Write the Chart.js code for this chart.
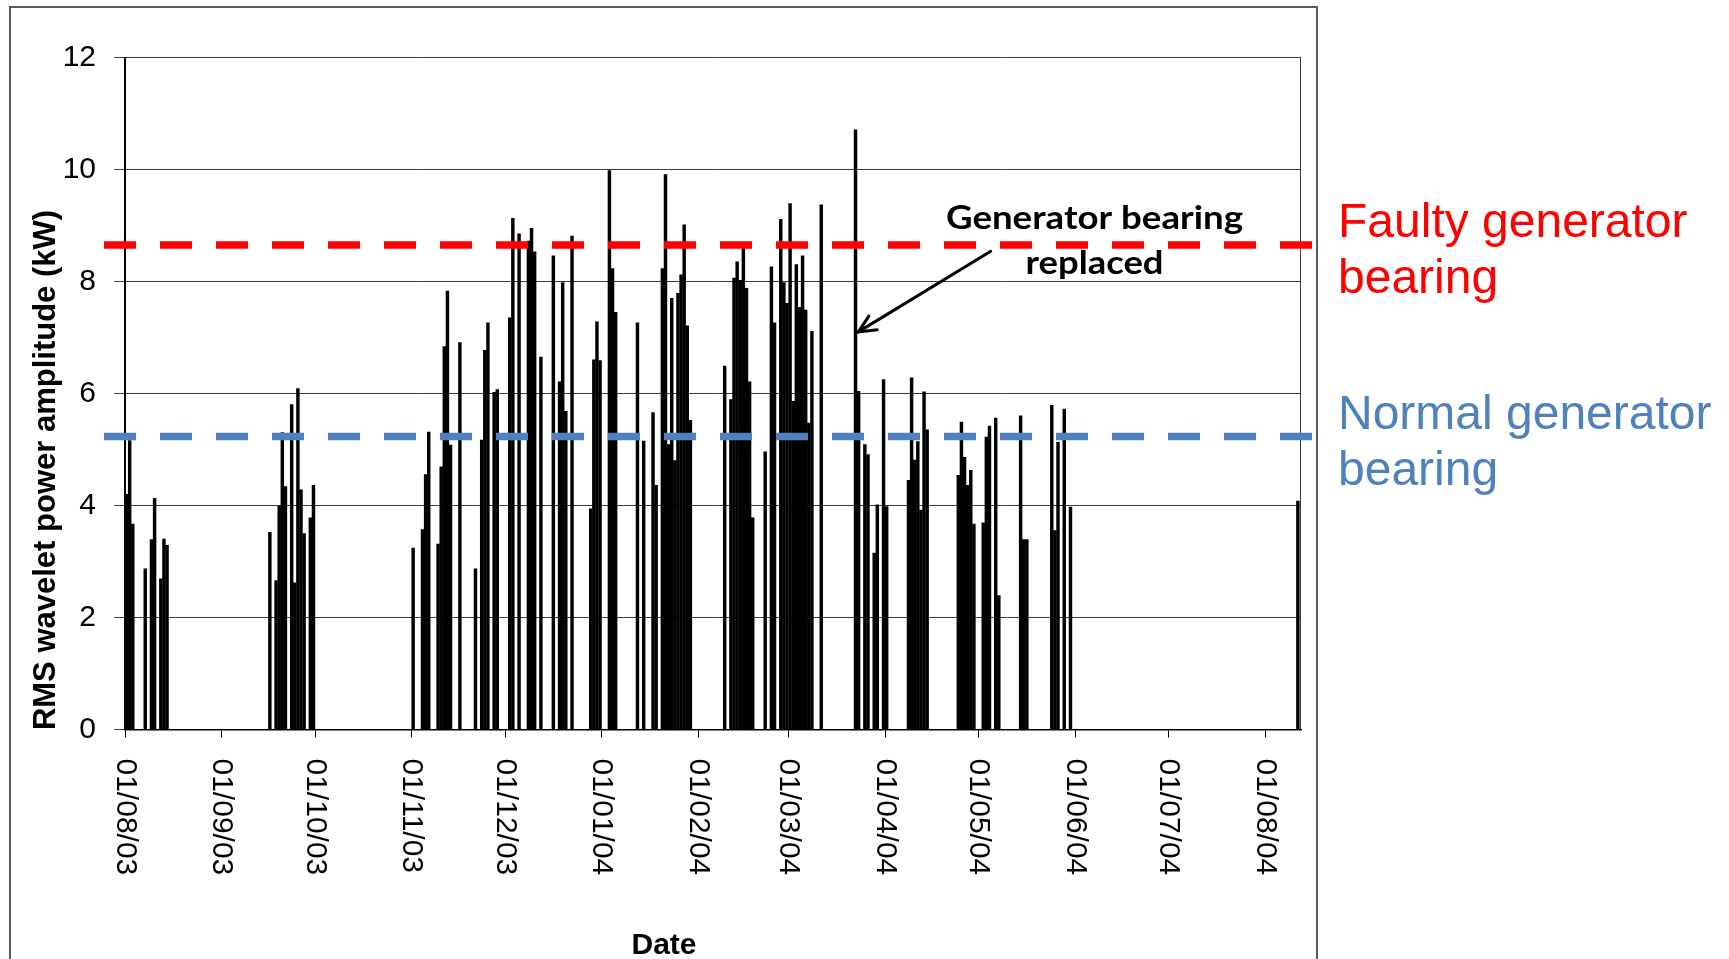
<!DOCTYPE html>
<html><head><meta charset="utf-8">
<script src="https://cdn.jsdelivr.net/npm/chart.js@4.4.1/dist/chart.umd.min.js"></script>
<style>html,body{margin:0;padding:0;background:#fff;overflow:hidden}canvas{display:block}</style>
</head><body>
<canvas id="c" width="1729" height="959"></canvas>
<script>
// Day index (days since 01/08/03) of each measurement
const days = [0,1,2,6,8,9,11,12,13,
  46,48,49,50,51,53,54,55,56,57,59,60,
  92,95,96,97,100,101,102,103,104,107,112,114,115,116,118,119,123,124,126,129,130,131,133,
  137,139,140,141,143,149,150,151,152,155,156,157,164,166,169,170,
  172,173,174,175,176,177,178,179,180,181,192,194,195,196,197,198,199,200,201,
  205,207,208,210,211,212,213,214,215,216,217,218,219,220,223,
  234,235,237,238,240,241,243,244,251,252,253,254,255,256,257,
  267,268,269,270,271,272,275,276,277,279,280,287,288,289,297,298,299,301,303,376];
// RMS wavelet power amplitude (kW)
const amplitudes = [4.20,5.16,3.67,2.87,3.39,4.13,2.69,3.40,3.29,
  3.52,2.66,3.99,5.30,4.34,5.80,2.62,6.09,4.28,3.50,3.78,4.36,
  3.24,3.57,4.55,5.31,3.31,4.69,6.84,7.83,5.08,6.91,2.87,5.17,6.77,7.26,6.02,6.07,7.35,9.13,8.85,8.72,8.95,8.53,6.65,
  8.46,6.21,7.98,5.68,8.81,3.94,6.60,7.28,6.59,9.98,8.23,7.45,7.26,5.15,5.66,4.36,
  8.23,9.91,5.09,7.70,4.80,7.79,8.12,9.01,7.21,5.52,6.49,5.89,8.06,8.35,8.02,8.62,7.88,6.21,3.78,
  4.96,8.26,7.26,9.11,7.98,7.61,9.39,5.86,8.30,7.54,8.46,7.49,5.47,7.11,9.37,
  10.71,6.04,5.09,4.91,3.15,4.01,6.25,3.98,4.45,6.28,4.81,5.14,3.92,6.03,5.35,
  4.54,5.49,4.86,4.36,4.63,3.67,3.69,5.22,5.42,5.56,2.39,5.60,3.39,3.39,5.79,3.55,5.13,5.72,3.97,4.08];
const monthDays = [0,31,61,92,122,153,184,213,244,274,305,335,366];
const tickLabels = ['01/08/03','01/09/03','01/10/03','01/11/03','01/12/03','01/01/04','01/02/04','01/03/04','01/04/04','01/05/04','01/06/04','01/07/04','01/08/04'];
const yTicks = [0,2,4,6,8,10,12];
const lastDay = 377.5;
const faultyLevel = 8.65;
const normalLevel = 5.23;
const arrowTip = {day: 235.4, kw: 7.10};
const arrowTail = {day: 277.9, kw: 8.54};
const annotationLines = ['Generator bearing', 'replaced'];
const faultyText = ['Faulty generator', 'bearing'];
const normalText = ['Normal generator', 'bearing'];
const yTitle = 'RMS wavelet power amplitude (kW)';
const xTitle = 'Date';

const ARIAL = '"Liberation Sans", Arial, sans-serif';

function fitText(ctx, text, cx, base, font, target) {
  ctx.font = font;
  const w = ctx.measureText(text).width;
  ctx.save();
  ctx.translate(cx, base);
  ctx.scale(target / w, 1);
  ctx.textAlign = 'center';
  ctx.textBaseline = 'alphabetic';
  ctx.fillText(text, 0, 0);
  ctx.restore();
}

const decor = {
  id: 'decor',
  beforeDraw(chart) {
    const ctx = chart.ctx;
    ctx.save();
    ctx.fillStyle = '#fff';
    ctx.fillRect(0, 0, chart.width, chart.height);
    ctx.strokeStyle = '#5a5a5a';
    ctx.lineWidth = 2;
    ctx.beginPath();
    ctx.moveTo(10, 980); ctx.lineTo(10, 7); ctx.lineTo(1317, 7); ctx.lineTo(1317, 980);
    ctx.stroke();
    ctx.restore();
  },
  afterDraw(chart) {
    const {ctx, chartArea, scales: {x, y}} = chart;
    ctx.save();
    // right border of plot area
    ctx.strokeStyle = '#3c3c3c';
    ctx.lineWidth = 1;
    const rx = Math.round(chartArea.right) - 0.5;
    ctx.beginPath(); ctx.moveTo(rx, chartArea.top); ctx.lineTo(rx, chartArea.bottom); ctx.stroke();

    // x tick labels, rotated clockwise
    ctx.fillStyle = '#000';
    ctx.font = '30px ' + ARIAL;
    monthDays.forEach((d, i) => {
      const px = x.getPixelForValue(d);
      ctx.save();
      ctx.translate(px, chartArea.bottom + 29);
      ctx.rotate(Math.PI / 2);
      ctx.textAlign = 'left';
      ctx.textBaseline = 'middle';
      ctx.fillText(tickLabels[i], 0, 0);
      ctx.restore();
    });

    // axis titles
    ctx.font = 'bold 31px ' + ARIAL;
    ctx.save();
    ctx.translate(46, 470);
    ctx.rotate(-Math.PI / 2);
    ctx.textAlign = 'center';
    ctx.textBaseline = 'middle';
    ctx.fillText(yTitle, 0, 0);
    ctx.restore();
    ctx.font = 'bold 30px ' + ARIAL;
    ctx.textAlign = 'center';
    ctx.textBaseline = 'alphabetic';
    ctx.fillText(xTitle, 664, 954);

    // dashed level lines
    ctx.lineWidth = 7.5;
    ctx.lineCap = 'butt';
    ctx.setLineDash([32, 24]);
    [[faultyLevel, '#FF0000'], [normalLevel, '#4F81BD']].forEach(([v, c]) => {
      const py = y.getPixelForValue(v);
      ctx.strokeStyle = c;
      ctx.beginPath(); ctx.moveTo(104, py); ctx.lineTo(1312, py); ctx.stroke();
    });
    ctx.setLineDash([]);

    // arrow
    const tx = x.getPixelForValue(arrowTip.day), ty = y.getPixelForValue(arrowTip.kw);
    const ax = x.getPixelForValue(arrowTail.day), ay = y.getPixelForValue(arrowTail.kw);
    const ang = Math.atan2(ty - ay, tx - ax);
    ctx.strokeStyle = '#000';
    ctx.lineWidth = 3;
    ctx.lineCap = 'round';
    ctx.beginPath(); ctx.moveTo(ax, ay); ctx.lineTo(tx, ty); ctx.stroke();
    const L = 19, spread = 25 * Math.PI / 180;
    ctx.beginPath();
    ctx.moveTo(tx - L * Math.cos(ang - spread), ty - L * Math.sin(ang - spread));
    ctx.lineTo(tx, ty);
    ctx.lineTo(tx - L * Math.cos(ang + spread), ty - L * Math.sin(ang + spread));
    ctx.stroke();

    // annotation text
    ctx.fillStyle = '#000';
    fitText(ctx, annotationLines[0], 1094.5, 229, 'bold 32px Lato, "Open Sans", sans-serif', 297);
    fitText(ctx, annotationLines[1], 1094.5, 274, 'bold 32px Lato, "Open Sans", sans-serif', 138);

    // right-hand labels
    ctx.textAlign = 'left';
    ctx.font = '48px ' + ARIAL;
    ctx.fillStyle = '#FF0000';
    ctx.fillText(faultyText[0], 1338, 237);
    ctx.fillText(faultyText[1], 1338, 293);
    ctx.fillStyle = '#4F81BD';
    ctx.fillText(normalText[0], 1338, 429);
    ctx.fillText(normalText[1], 1338, 485);
    ctx.restore();
  }
};

new Chart(document.getElementById('c'), {
  type: 'bar',
  data: {
    datasets: [{
      data: days.map((d, i) => ({x: d + 0.5, y: amplitudes[i]})),
      backgroundColor: '#000',
      borderWidth: 0,
      barThickness: 2.8
    }]
  },
  options: {
    responsive: false,
    animation: false,
    layout: {padding: {top: 57.5, right: 428, left: 0, bottom: 0}},
    plugins: {legend: {display: false}, tooltip: {enabled: false}, title: {display: false}},
    scales: {
      x: {
        type: 'linear',
        min: 0,
        max: lastDay,
        offset: false,
        grid: {offset: false, drawOnChartArea: false, drawTicks: true, tickLength: 8, color: '#000', lineWidth: 1},
        border: {display: true, color: '#000', width: 1.5},
        ticks: {display: false},
        afterBuildTicks: (s) => { s.ticks = monthDays.map(v => ({value: v})); },
        afterFit: (s) => { s.height = 959 - 729.5; }
      },
      y: {
        min: 0,
        max: 12,
        grid: {color: '#3c3c3c', lineWidth: 1, drawTicks: true, tickLength: 11},
        border: {display: true, color: '#000', width: 2},
        ticks: {
          stepSize: 2,
          padding: 18,
          color: '#000',
          font: {family: ARIAL, size: 30},
          callback: (v) => yTicks.includes(v) ? String(v) : ''
        },
        afterFit: (s) => { s.width = 125; }
      }
    }
  },
  plugins: [decor]
});
</script>
</body></html>
